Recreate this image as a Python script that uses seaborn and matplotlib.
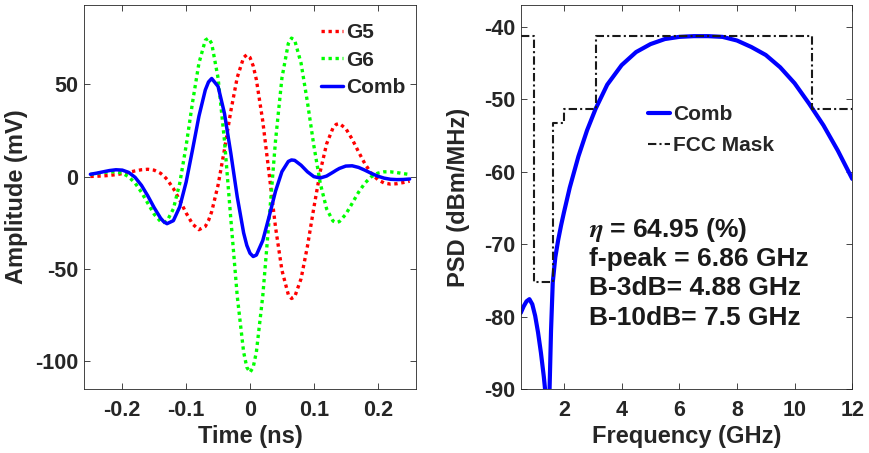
import numpy as np
import pandas as pd
import seaborn as sns
import matplotlib.pyplot as plt


# time-domain pulses
t_ns = [-0.25, -0.24, -0.23, -0.22, -0.21, -0.20, -0.19, -0.18, -0.17, -0.16,
        -0.15, -0.14, -0.135, -0.13, -0.12, -0.11, -0.10, -0.09, -0.08, -0.07,
        -0.065, -0.06, -0.05, -0.04, -0.03, -0.02, -0.01, -0.005, 0.0, 0.005,
        0.01, 0.02, 0.03, 0.04, 0.05, 0.06, 0.065, 0.07, 0.08, 0.09,
        0.10, 0.11, 0.12, 0.13, 0.135, 0.14, 0.15, 0.16, 0.17, 0.18,
        0.19, 0.20, 0.21, 0.22, 0.23, 0.24, 0.25]
g5_mv = [0.13, 0.24, 0.42, 0.70, 1.11, 1.67, 2.36, 3.12, 3.76, 4.02,
         3.52, 1.83, 0.41, -1.43, -6.39, -12.77, -19.68, -25.64, -28.71, -26.94,
         -23.76, -18.94, -4.55, 14.70, 35.61, 53.75, 64.56, 66.04, 64.55, 60.00,
         52.52, 30.08, 1.49, -27.41, -50.69, -63.88, -65.99, -65.08, -55.24, -37.63,
         -16.79, 2.80, 17.77, 26.43, 28.34, 28.78, 26.11, 20.35, 13.46, 6.98,
         1.85, -1.58, -3.42, -4.02, -3.81, -3.19, -2.44]
g6_mv = [1.18, 1.68, 2.22, 2.63, 2.64, 1.89, -0.04, -3.46, -8.43, -14.45,
         -20.36, -24.31, -24.84, -24.02, -17.42, -3.51, 16.82, 40.28, 61.45, 73.92,
         75.06, 72.13, 53.43, 19.58, -23.02, -64.65, -94.96, -103.23, -106.0, -103.23,
         -94.96, -64.65, -23.02, 19.58, 53.43, 72.13, 75.06, 73.92, 61.45, 40.28,
         16.82, -3.51, -17.42, -24.02, -24.84, -24.31, -20.36, -14.45, -8.43, -3.46,
         -0.04, 1.89, 2.64, 2.63, 2.22, 1.68, 1.18]
comb_mv = [1.31, 1.92, 2.64, 3.33, 3.75, 3.56, 2.32, -0.34, -4.67, -10.43,
           -16.84, -22.48, -24.43, -25.45, -23.81, -16.28, -2.86, 14.64, 32.74, 46.98,
           51.30, 53.19, 48.88, 34.28, 12.59, -10.90, -30.40, -37.19, -41.45, -43.23,
           -42.44, -34.57, -21.53, -7.83, 2.74, 8.25, 9.07, 8.84, 6.21, 2.65,
           0.03, -0.71, 0.35, 2.41, 3.50, 4.47, 5.75, 5.90, 5.03, 3.52,
           1.81, 0.31, -0.78, -1.39, -1.59, -1.51, -1.26]

# spectrum of the combined pulse
psd_freq = [0.5, 0.6, 0.7, 0.8, 0.9, 1.0, 1.1, 1.2, 1.3,
            1.35, 1.38, 1.41, 1.43, 1.45, 1.48, 1.5, 1.55, 1.61,
            1.7, 1.8, 1.9, 2.0, 2.2, 2.5, 2.8, 3.1,
            3.5, 4.0, 4.5, 5.0, 5.5, 6.0, 6.5, 6.86, 7.0,
            7.5, 8.0, 8.5, 9.0, 9.5, 10.0, 10.5, 11.0, 11.5, 12.0]
psd_dbm = [-79.5, -78.6, -77.9, -77.6, -78.3, -79.9, -82.2, -85.0, -88.3,
           -90.3, -93.5, -100.0, -110.0, -100.0, -93.5, -90.0, -82.0, -75.3,
           -71.8, -69.4, -67.4, -65.6, -62.2, -57.9, -54.3, -51.3,
           -48.0, -45.3, -43.5, -42.4, -41.7, -41.4, -41.3, -41.3, -41.3,
           -41.4, -41.9, -42.8, -43.9, -45.6, -47.8, -50.6, -53.6, -57.1, -61.0]

# FCC indoor mask
mask_edges = [0.5, 0.96, 1.61, 1.99, 3.1, 10.6, 12.0]
mask_levels = [-41.3, -75.3, -53.3, -51.3, -41.3, -51.3]

info_lines = [r"$\eta$ = 64.95 (%)", "f-peak = 6.86 GHz",
              "B-3dB= 4.88 GHz", "B-10dB= 7.5 GHz"]

sns.set_theme(style="white")
plt.rcParams['font.family'] = ['Liberation Sans', 'DejaVu Sans']
plt.rcParams['font.weight'] = 'bold'
plt.rcParams['mathtext.fontset'] = 'stix'

sGrey = '#262626'

oFig = plt.figure(figsize=(8.7, 4.53), dpi=100)
oAx1 = oFig.add_axes([84 / 870, 1 - 389 / 453, 332 / 870, 384 / 453])
oAx2 = oFig.add_axes([520.75 / 870, 1 - 389 / 453, 331.5 / 870, 384 / 453])

oTime = pd.DataFrame({"t": t_ns, "G5": g5_mv, "G6": g6_mv, "Comb": comb_mv})
sns.lineplot(data=oTime, x="t", y="G5", ax=oAx1, color=(1, 0, 0), lw=2.4,
             linestyle=(0, (1, 1.1)), label="G5", estimator=None)
sns.lineplot(data=oTime, x="t", y="G6", ax=oAx1, color=(0, 1, 0), lw=2.4,
             linestyle=(0, (1, 1.1)), label="G6", estimator=None)
sns.lineplot(data=oTime, x="t", y="Comb", ax=oAx1, color=(0, 0, 1), lw=2.5,
             label="Comb", estimator=None)

oPsd = pd.DataFrame({"f": psd_freq, "p": psd_dbm})
oMask = pd.DataFrame({"f": mask_edges, "p": mask_levels + [mask_levels[-1]]})
sns.lineplot(data=oPsd, x="f", y="p", ax=oAx2, color=(0, 0, 1), lw=3,
             label="Comb", estimator=None)
sns.lineplot(data=oMask, x="f", y="p", ax=oAx2, color='k', lw=1.5,
             linestyle=(0, (4, 1.5, 1, 1.5)), drawstyle='steps-post',
             label="FCC Mask", estimator=None)

oAx1.set_xlim(-0.26, 0.26)
oAx1.set_ylim(-115, 93)
oAx1.set_xticks([-0.2, -0.1, 0, 0.1, 0.2])
oAx1.set_xticklabels(["-0.2", "-0.1", "0", "0.1", "0.2"])
oAx1.set_yticks([-100, -50, 0, 50])
oAx1.set_yticklabels(["-100", "-50", "0", "50"])
oAx1.set_xlabel("Time (ns)", fontsize=17, fontweight='bold', color=sGrey, labelpad=3)
oAx1.set_ylabel("Amplitude (mV)", fontsize=17, fontweight='bold', color=sGrey, labelpad=5)

oAx2.set_xlim(0.5, 12)
oAx2.set_ylim(-90, -37)
oAx2.set_xticks([2, 4, 6, 8, 10, 12])
oAx2.set_yticks([-90, -80, -70, -60, -50, -40])
oAx2.set_yticklabels(["-90", "-80", "-70", "-60", "-50", "-40"])
oAx2.set_xlabel("Frequency (GHz)", fontsize=17, fontweight='bold', color=sGrey, labelpad=3)
oAx2.set_ylabel("PSD (dBm/MHz)", fontsize=17, fontweight='bold', color=sGrey, labelpad=10)

for oAx in (oAx1, oAx2):
    oAx.set_facecolor('white')
    for oSpine in oAx.spines.values():
        oSpine.set_visible(True)
        oSpine.set_color(sGrey)
        oSpine.set_linewidth(0.6)
    oAx.tick_params(axis='both', direction='in', length=4, width=0.6,
                    bottom=True, top=True, left=True, right=True,
                    colors=sGrey, labelsize=15.5)
    oAx.tick_params(axis='x', pad=8)
    oAx.tick_params(axis='y', pad=4)
    for oLab in oAx.get_xticklabels() + oAx.get_yticklabels():
        oLab.set_fontweight('bold')

oAx1.legend(loc='upper left', bbox_to_anchor=(0.69, 0.975), frameon=False,
            handlelength=1.05, handletextpad=0.15,
            labelspacing=0.42, borderaxespad=0, prop={'weight': 'bold', 'size': 15})
oAx2.legend(loc='upper left', bbox_to_anchor=(0.36, 0.76), frameon=False,
            handlelength=1.05, handletextpad=0.15,
            labelspacing=0.55, borderaxespad=0, prop={'weight': 'bold', 'size': 15})

for i, sLine in enumerate(info_lines):
    oAx2.text(0.205, 0.397 - i * 0.0765, sLine, transform=oAx2.transAxes,
              fontsize=19, fontweight='bold', color='k', va='baseline', ha='left')

oFig.savefig("out.png", dpi=100)
